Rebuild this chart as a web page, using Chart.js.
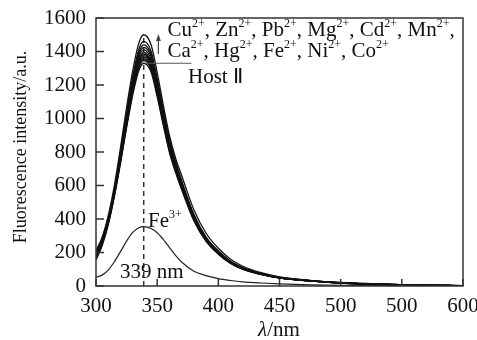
<!DOCTYPE html>
<html>
<head>
<meta charset="utf-8">
<script src="https://cdn.jsdelivr.net/npm/chart.js@4.4.0/dist/chart.umd.min.js"></script>
<style>
  html, body { margin: 0; padding: 0; background: #fff; }
</style>
</head>
<body>
<canvas id="myChart" width="477" height="340"></canvas>
<script>
'use strict';

// x values (nm)
let wavelengths = [300, 305, 310, 315, 320, 325, 330, 335, 339, 345, 350, 355, 360, 365, 370, 380, 390, 400, 410, 420, 435, 450, 475, 500, 550, 600];

// the black bundle, one curve per ion + host
let ionNames = ['Cu2+', 'Zn2+', 'Pb2+', 'Mg2+', 'Cd2+', 'Mn2+', 'Ca2+', 'Hg2+', 'Fe2+', 'Ni2+', 'Co2+', 'Host II'];
let cuValues = [195, 285, 420, 600, 825, 1065, 1285, 1450, 1500, 1440, 1275, 1080, 900, 765, 660, 455, 315, 225, 160, 118, 80, 55, 34, 21, 8, 2];
let znValues = [170, 255, 390, 575, 800, 1035, 1250, 1412, 1460, 1402, 1240, 1053, 876, 745, 630, 428, 292, 209, 148, 110, 75, 52, 32, 20, 7, 2];
let pbValues = [210, 290, 410, 580, 792, 1023, 1235, 1394, 1440, 1384, 1225, 1040, 865, 736, 622, 422, 288, 206, 146, 108, 74, 51, 32, 19, 7, 2];
let mgValues = [160, 250, 380, 562, 780, 1010, 1220, 1380, 1425, 1370, 1212, 1028, 855, 728, 616, 417, 285, 204, 145, 107, 73, 51, 32, 19, 7, 2];
let cdValues = [185, 270, 395, 565, 775, 1002, 1208, 1364, 1410, 1354, 1198, 1017, 846, 720, 609, 413, 282, 201, 143, 106, 73, 50, 31, 19, 7, 2];
let mnValues = [200, 280, 400, 565, 770, 990, 1195, 1350, 1395, 1340, 1185, 1006, 837, 712, 603, 408, 279, 199, 141, 105, 72, 50, 31, 19, 7, 2];
let caValues = [175, 260, 385, 553, 762, 984, 1187, 1340, 1385, 1330, 1177, 999, 831, 707, 598, 405, 277, 198, 140, 104, 71, 49, 31, 19, 7, 2];
let hgValues = [165, 250, 375, 548, 756, 977, 1178, 1331, 1375, 1321, 1169, 992, 825, 702, 594, 402, 275, 196, 139, 103, 71, 49, 30, 18, 7, 2];
let fe2Values = [190, 272, 392, 553, 751, 970, 1170, 1321, 1365, 1311, 1160, 985, 819, 697, 590, 400, 273, 195, 138, 102, 70, 49, 30, 18, 7, 2];
let niValues = [155, 240, 365, 540, 745, 963, 1162, 1312, 1355, 1302, 1152, 978, 813, 692, 586, 397, 271, 193, 137, 101, 70, 48, 30, 18, 7, 2];
let coValues = [205, 282, 398, 550, 740, 956, 1153, 1302, 1345, 1293, 1144, 971, 807, 687, 582, 394, 269, 192, 136, 101, 69, 48, 30, 18, 7, 2];
let hostValues = [180, 258, 372, 532, 732, 945, 1140, 1287, 1330, 1278, 1130, 960, 798, 679, 576, 390, 266, 190, 135, 100, 69, 48, 30, 18, 7, 2];
// quenched curve
let fe3Values = [52, 65, 95, 145, 205, 268, 320, 348, 355, 343, 318, 278, 230, 183, 143, 88, 62, 44, 33, 25, 18, 13, 7, 4, 1, 0];

// dashed marker at the peak
let peakWavelength = 339;
let peakLineValues = [0, 1480];

// tick labels as printed (the 550 tick really reads 500)
let xTickLabels = ['300', '350', '400', '450', '500', '500', '600'];
let yTickValues = [0, 200, 400, 600, 800, 1000, 1200, 1400, 1600];

let bundle = [cuValues, znValues, pbValues, mgValues, cdValues, mnValues, caValues, hgValues, fe2Values, niValues, coValues, hostValues];

const FONT = '"Liberation Serif", "Times New Roman", serif';

function toPoints(values) {
  return values.map((v, i) => ({ x: wavelengths[i], y: v }));
}

const datasets = [];
bundle.forEach((vals, i) => {
  datasets.push({
    label: ionNames[i],
    data: toPoints(vals),
    borderColor: '#111',
    borderWidth: 1.3,
    cubicInterpolationMode: 'monotone'
  });
});
datasets.push({
  label: 'Fe3+',
  data: toPoints(fe3Values),
  borderColor: '#222',
  borderWidth: 1.2,
  cubicInterpolationMode: 'monotone'
});
datasets.push({
  label: 'peak',
  data: peakLineValues.map(v => ({ x: peakWavelength, y: v })),
  borderColor: '#333',
  borderWidth: 1.5,
  borderDash: [5, 4]
});

// text with superscripts, parts = [base, sup]
function drawIons(ctx, parts, px, py) {
  let cx = px;
  ctx.textAlign = 'left';
  ctx.textBaseline = 'alphabetic';
  for (const [base, sup] of parts) {
    ctx.font = '21px ' + FONT;
    ctx.fillText(base, cx, py);
    cx += ctx.measureText(base).width;
    if (sup) {
      ctx.font = '12px ' + FONT;
      ctx.fillText(sup, cx, py - 9);
      cx += ctx.measureText(sup).width;
    }
  }
}

const decorations = {
  id: 'decorations',
  afterDatasetsDraw(chart) {
    const { ctx, chartArea: a } = chart;
    const x = chart.scales.x;
    const y = chart.scales.y;
    ctx.save();

    // frame + inward ticks
    ctx.strokeStyle = '#333';
    ctx.lineWidth = 1.5;
    ctx.strokeRect(a.left, a.top, a.right - a.left, a.bottom - a.top);
    ctx.beginPath();
    for (const t of y.ticks) {
      const py = y.getPixelForValue(t.value);
      ctx.moveTo(a.left, py);
      ctx.lineTo(a.left + 8, py);
    }
    for (const t of x.ticks) {
      const px = x.getPixelForValue(t.value);
      ctx.moveTo(px, a.bottom);
      ctx.lineTo(px, a.bottom - 7);
    }
    ctx.stroke();

    // arrow up from the host curve
    ctx.strokeStyle = '#444';
    ctx.fillStyle = '#444';
    ctx.lineWidth = 1.2;
    const ax = x.getPixelForValue(351);
    const ay0 = y.getPixelForValue(1385);
    const ay1 = y.getPixelForValue(1505);
    ctx.beginPath();
    ctx.moveTo(ax, ay0);
    ctx.lineTo(ax, ay1 + 5);
    ctx.stroke();
    ctx.beginPath();
    ctx.moveTo(ax, ay1);
    ctx.lineTo(ax - 2.5, ay1 + 7);
    ctx.lineTo(ax + 2.5, ay1 + 7);
    ctx.closePath();
    ctx.fill();

    // leader line to Host II
    ctx.strokeStyle = '#555';
    ctx.beginPath();
    ctx.moveTo(x.getPixelForValue(340), y.getPixelForValue(1330));
    ctx.lineTo(x.getPixelForValue(378), y.getPixelForValue(1330));
    ctx.stroke();

    // labels
    ctx.fillStyle = '#111';
    drawIons(ctx, [['Cu', '2+'], [', Zn', '2+'], [', Pb', '2+'], [', Mg', '2+'], [', Cd', '2+'], [', Mn', '2+'], [',', '']],
      x.getPixelForValue(358.4), y.getPixelForValue(1490));
    drawIons(ctx, [['Ca', '2+'], [', Hg', '2+'], [', Fe', '2+'], [', Ni', '2+'], [', Co', '2+']],
      x.getPixelForValue(358.4), y.getPixelForValue(1367));
    drawIons(ctx, [['Host Ⅱ', '']], x.getPixelForValue(375.2), y.getPixelForValue(1212));
    drawIons(ctx, [['Fe', '3+']], x.getPixelForValue(342.5), y.getPixelForValue(352));
    drawIons(ctx, [['339 nm', '']], x.getPixelForValue(319.6), y.getPixelForValue(48));

    // y axis title
    ctx.save();
    ctx.translate(21, 147);
    ctx.rotate(-Math.PI / 2);
    ctx.font = '18px ' + FONT;
    ctx.textAlign = 'center';
    ctx.textBaseline = 'middle';
    ctx.fillText('Fluorescence intensity/a.u.', 0, 0);
    ctx.restore();

    // x axis title, lambda in italic
    ctx.textBaseline = 'alphabetic';
    ctx.textAlign = 'left';
    ctx.font = 'italic 21px ' + FONT;
    const wL = ctx.measureText('λ').width;
    ctx.font = '21px ' + FONT;
    const wR = ctx.measureText('/nm').width;
    const cx = 279 - (wL + wR) / 2;
    ctx.font = 'italic 21px ' + FONT;
    ctx.fillText('λ', cx, 336);
    ctx.font = '21px ' + FONT;
    ctx.fillText('/nm', cx + wL, 336);

    ctx.restore();
  }
};

const config = {
  type: 'line',
  data: { datasets: datasets },
  options: {
    responsive: false,
    animation: false,
    devicePixelRatio: 1,
    layout: { padding: { left: 0, right: 14, top: 18, bottom: 0 } },
    elements: { point: { radius: 0 } },
    plugins: { legend: { display: false }, tooltip: { enabled: false } },
    scales: {
      x: {
        type: 'linear',
        min: 300,
        max: 600,
        grid: { display: false, drawTicks: false },
        border: { display: false },
        ticks: {
          stepSize: 50,
          maxRotation: 0,
          padding: 8,
          color: '#111',
          font: { family: FONT, size: 21 },
          callback: (v, i) => xTickLabels[i]
        },
        afterFit: s => { s.height = 54; s.paddingLeft = 0; s.paddingRight = 0; }
      },
      y: {
        min: yTickValues[0],
        max: yTickValues[yTickValues.length - 1],
        grid: { display: false, drawTicks: false },
        border: { display: false },
        ticks: {
          stepSize: 200,
          padding: 10,
          color: '#111',
          font: { family: FONT, size: 21 },
          callback: v => String(v)
        },
        afterFit: s => { s.width = 96; s.paddingTop = 0; s.paddingBottom = 0; }
      }
    }
  },
  plugins: [decorations]
};

const myChart = new Chart(document.getElementById('myChart'), config);
</script>
</body>
</html>
